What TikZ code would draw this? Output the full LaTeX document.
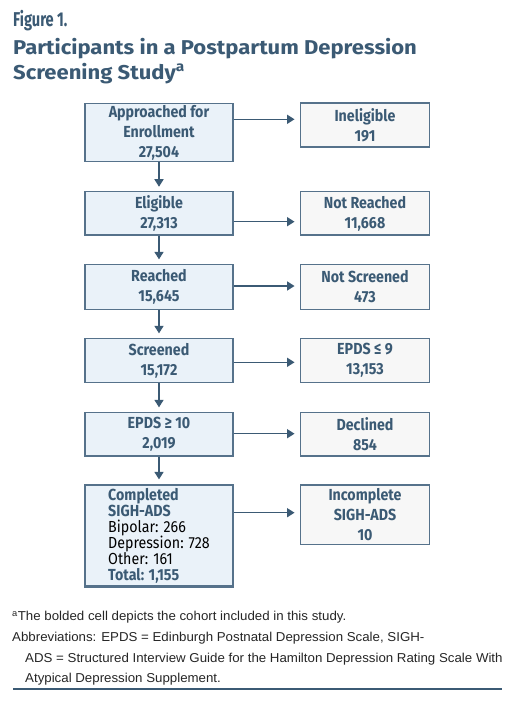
\documentclass[tikz,border=0pt]{standalone}
\usepackage{fontspec}
\setmainfont{Liberation Sans}[FakeStretch=1.03]
\newfontfamily\boxfont{Fira Sans}[FakeStretch=0.89]
\newfontfamily\titlefont{Fira Sans}[FakeStretch=1.1]
\newfontfamily\figfont{Fira Sans}[FakeStretch=0.73]
\usetikzlibrary{arrows.meta}
\definecolor{slate}{HTML}{3B5A74}
\definecolor{bordc}{HTML}{56728B}
\definecolor{lfill}{HTML}{EAF2F9}
\definecolor{rfill}{HTML}{F7F7F7}
\definecolor{foot}{HTML}{262626}
\tikzset{
  boxbase/.style={draw=bordc, line width=1.3pt, inner sep=0pt, align=center,
    text=slate, font=\boxfont\bfseries\fontsize{16}{20}\selectfont},
  lbox/.style={boxbase, fill=lfill, minimum width=148pt},
  rbox/.style={boxbase, fill=rfill, minimum width=128.6pt},
  arr/.style={draw=slate, line width=1.5pt, -{Triangle[width=9pt,length=7.5pt]}},
  varr/.style={arr, shorten >=4.3pt},
  harr/.style={arr, shorten >=5.5pt},
  footline/.style={anchor=base west, inner sep=0pt, text=foot,
    font=\fontsize{12.9}{12.9}\selectfont},
}
\begin{document}
\begin{tikzpicture}[x=1pt,y=-1pt]
\useasboundingbox (0,0) rectangle (515,703);
\fill[white] (0,0) rectangle (515,703);

% titles
\node[anchor=base west, inner sep=0pt, text=slate,
  font=\figfont\bfseries\fontsize{20}{20}\selectfont] (fig) at (13,26.5) {Figure 1.};
\node[anchor=base west, inner sep=0pt, text=slate,
  font=\titlefont\bfseries\fontsize{20}{20}\selectfont] (t1) at (13,55) {Participants in a Postpartum Depression};
\node[anchor=base west, inner sep=0pt, text=slate,
  font=\titlefont\bfseries\fontsize{20}{20}\selectfont] (t2) at (13,79.5) {Screening Study\textsuperscript{a}};

% left column
\node[lbox, minimum height=58.4pt] (l1) at (159,132.5) {Approached for\\Enrollment\\27,504};
\node[lbox, minimum height=43.3pt] (l2) at (159,213.35) {Eligible\\27,313};
\node[lbox, minimum height=45pt] (l3) at (159,286.8) {Reached\\15,645};
\node[lbox, minimum height=44.4pt] (l4) at (159,360.5) {Screened\\15,172};
\node[lbox, minimum height=43.7pt] (l5) at (159,434.15) {EPDS ≥ 10\\2,019};
\node[lbox, minimum height=101.7pt, line width=2.6pt, align=left,
  font=\boxfont\fontsize{16}{16}\selectfont] (l6) at (159,535.85)
  {\textbf{Completed}\\\textbf{SIGH-ADS}\\\color{black}Bipolar: 266\\\color{black}Depression: 728\\\color{black}Other: 161\\\textbf{Total: 1,155}};

% right column
\node[rbox, minimum height=44pt] (r1) at (365,125) {Ineligible\\191};
\node[rbox, minimum height=43.3pt] (r2) at (365,213.35) {Not Reached\\11,668};
\node[rbox, minimum height=45pt] (r3) at (365,286.8) {Not Screened\\473};
\node[rbox, minimum height=44.4pt] (r4) at (365,360.5) {EPDS ≤ 9\\13,153};
\node[rbox, minimum height=43.7pt] (r5) at (365,434.15) {Declined\\854};
\node[rbox, minimum height=59.3pt] (r6) at (365,514.65) {Incomplete\\SIGH-ADS\\10};

% vertical arrows
\draw[varr] (l1) -- (l2);
\draw[varr] (l2) -- (l3);
\draw[varr] (l3) -- (l4);
\draw[varr] (l4) -- (l5);
\draw[varr] (l5) -- (l6);

% horizontal arrows
\draw[harr] (l1.east |- 0,119.3) -- (r1.west |- 0,119.3);
\draw[harr] (l2.east |- 0,221.7) -- (r2.west |- 0,221.7);
\draw[harr] (l3.east |- 0,286) -- (r3.west |- 0,286);
\draw[harr] (l4.east |- 0,362.3) -- (r4.west |- 0,362.3);
\draw[harr] (l5.east |- 0,433.7) -- (r5.west |- 0,433.7);
\draw[harr] (l6.east |- 0,512.7) -- (r6.west |- 0,512.7);

% footnotes
\node[footline] (f1) at (12,620.5) {\textsuperscript{a}The bolded cell depicts the cohort included in this study.};
\node[footline] (f2) at (12,641.5) {Abbreviations: EPDS = Edinburgh Postnatal Depression Scale, SIGH-};
\node[footline] (f3) at (25,662) {ADS = Structured Interview Guide for the Hamilton Depression Rating Scale With};
\node[footline] (f4) at (25,682.5) {Atypical Depression Supplement.};
\draw[slate, line width=1.5pt] (13,689) -- (502,689);
\end{tikzpicture}
\end{document}
